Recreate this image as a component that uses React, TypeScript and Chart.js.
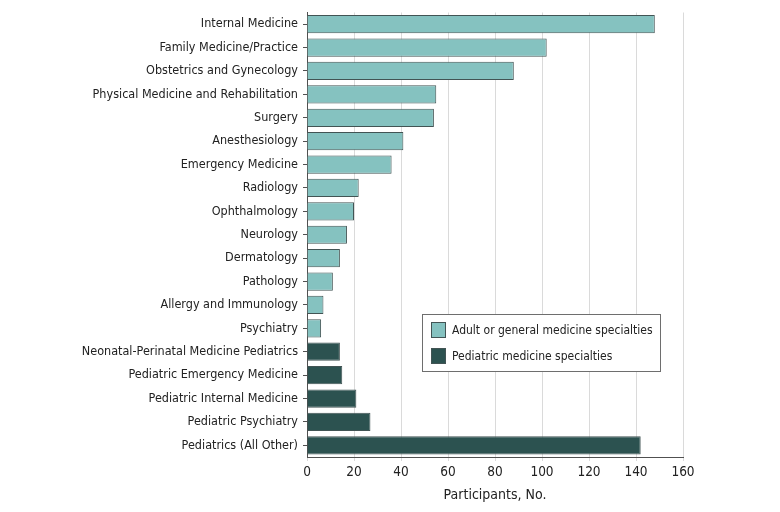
import React, { useEffect, useRef } from "react";
import { Chart, registerables } from "chart.js";

Chart.register(...registerables);

const categories = [
  "Internal Medicine",
  "Family Medicine/Practice",
  "Obstetrics and Gynecology",
  "Physical Medicine and Rehabilitation",
  "Surgery",
  "Anesthesiology",
  "Emergency Medicine",
  "Radiology",
  "Ophthalmology",
  "Neurology",
  "Dermatology",
  "Pathology",
  "Allergy and Immunology",
  "Psychiatry",
  "Neonatal-Perinatal Medicine Pediatrics",
  "Pediatric Emergency Medicine",
  "Pediatric Internal Medicine",
  "Pediatric Psychiatry",
  "Pediatrics (All Other)",
];

const adultValues = [148, 102, 88, 55, 54, 41, 36, 22, 20, 17, 14, 11, 7, 6, null, null, null, null, null];
const pediatricValues = [null, null, null, null, null, null, null, null, null, null, null, null, null, null, 14, 15, 21, 27, 142];

const seriesLabels = ["Adult or general medicine specialties", "Pediatric medicine specialties"];
const xTicks = [0, 20, 40, 60, 80, 100, 120, 140, 160];
const axisTitle = "Participants, No.";

const FONT = "'DejaVu Sans Condensed', 'Liberation Sans', sans-serif";
const LIGHT = "rgb(133,194,192)";
const DARK = "rgb(44,82,80)";
const BORDER = "rgb(66,84,84)";

const legendPlugin = {
  id: "boxLegend",
  afterDraw(chart: any) {
    const ctx = chart.ctx;
    const x = chart.scales.x;
    const y = chart.scales.y;
    const left = Math.round(x.getPixelForValue(49));
    const right = Math.round(x.getPixelForValue(150));
    const top = Math.round(y.getPixelForValue(13) - 14.5);
    const bottom = Math.round(y.getPixelForValue(14) + 19.5);
    ctx.save();
    ctx.fillStyle = "#fff";
    ctx.fillRect(left, top, right - left, bottom - top);
    ctx.strokeStyle = "rgb(110,110,110)";
    ctx.lineWidth = 1;
    ctx.strokeRect(left + 0.5, top + 0.5, right - left, bottom - top);
    chart.data.datasets.forEach((ds: any, i: number) => {
      const sy = Math.round(top + 8 + i * 25.5);
      ctx.fillStyle = ds.backgroundColor;
      ctx.fillRect(left + 9, sy, 15, 16);
      ctx.strokeStyle = BORDER;
      ctx.strokeRect(left + 9.5, sy + 0.5, 14, 15);
      ctx.fillStyle = "#222";
      ctx.font = `12px ${FONT}`;
      ctx.textBaseline = "middle";
      ctx.textAlign = "left";
      ctx.fillText(ds.label, left + 30, sy + 8.5);
    });
    ctx.restore();
  },
};

export default function App() {
  const ref = useRef<HTMLCanvasElement>(null);
  useEffect(() => {
    const chart = new Chart(ref.current!, {
      type: "bar",
      data: {
        labels: categories,
        datasets: [
          {
            label: seriesLabels[0],
            data: adultValues,
            backgroundColor: LIGHT,
            borderColor: BORDER,
            borderWidth: 1,
            grouped: false,
            barPercentage: 0.78,
            categoryPercentage: 1,
          },
          {
            label: seriesLabels[1],
            data: pediatricValues,
            backgroundColor: DARK,
            borderColor: BORDER,
            borderWidth: 1,
            grouped: false,
            barPercentage: 0.78,
            categoryPercentage: 1,
          },
        ] as any,
      },
      plugins: [legendPlugin],
      options: {
        indexAxis: "y",
        animation: false,
        responsive: false,
        layout: { padding: { top: 9, right: 97, bottom: 8, left: 0 } },
        plugins: { legend: { display: false }, tooltip: { enabled: false } },
        scales: {
          x: {
            min: 0,
            max: 160,
            afterBuildTicks(scale: any) {
              scale.ticks = xTicks.map((v) => ({ value: v }));
            },
            grid: { color: "rgb(218,218,218)", lineWidth: 1, tickLength: 4, drawTicks: true },
            border: { display: true, color: "rgb(80,80,80)", width: 1 },
            ticks: { color: "#222", font: { family: FONT, size: 13.5 }, padding: 3 },
            title: { display: true, text: axisTitle, color: "#222", font: { family: FONT, size: 14 }, padding: { top: 4, bottom: 0 } },
          },
          y: {
            afterFit(scale: any) {
              scale.width = 307;
            },
            grid: { drawOnChartArea: false, offset: false, tickLength: 4, color: "rgb(80,80,80)" },
            border: { display: true, color: "rgb(80,80,80)", width: 1 },
            ticks: { color: "#222", font: { family: FONT, size: 12.5 }, padding: 5, autoSkip: false },
          },
        },
      } as any,
    });
    return () => chart.destroy();
  }, []);
  return (
    <div style={{ position: "fixed", left: 0, top: 0, width: 780, height: 512, background: "#fff" }}>
      <canvas ref={ref} width={780} height={512} />
    </div>
  );
}
